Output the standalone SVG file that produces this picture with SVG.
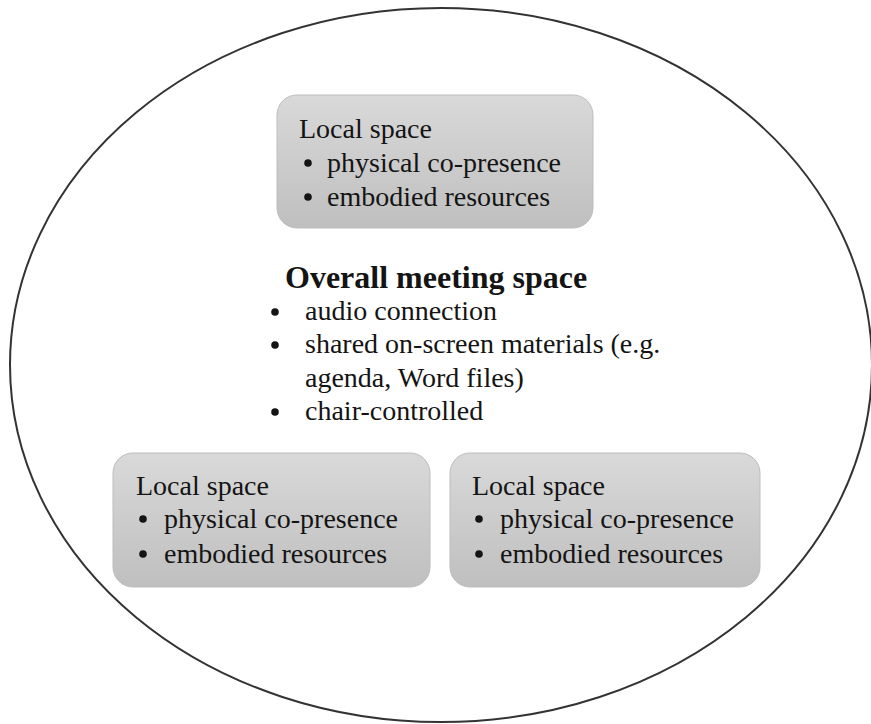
<svg xmlns="http://www.w3.org/2000/svg" width="871" height="724" viewBox="0 0 871 724">
<style>
text{font-family:"Liberation Serif","Times New Roman",serif;fill:#141414;font-size:28px}
.title{font-weight:bold;font-size:32px}
.box{fill:url(#g);stroke:#bdbdbd;stroke-width:1}
.dot{fill:#141414}
</style>
<defs>
<linearGradient id="g" x1="0" y1="0" x2="0" y2="1">
<stop offset="0" stop-color="#d9d9d9"/>
<stop offset="1" stop-color="#bfbfbf"/>
</linearGradient>
</defs>
<rect width="871" height="724" fill="#fff"/>
<g id="overall">
<ellipse cx="441" cy="365" rx="431" ry="357" fill="none" stroke="#333" stroke-width="2"/>
<text class="title" x="285" y="288">Overall meeting space</text>
<circle class="dot" cx="275" cy="312" r="3.8"/>
<text x="305" y="320">audio connection</text>
<circle class="dot" cx="275" cy="345" r="3.8"/>
<text x="305" y="353">shared on-screen materials (e.g.</text>
<text x="305" y="387">agenda, Word files)</text>
<circle class="dot" cx="275" cy="412" r="3.8"/>
<text x="305" y="420">chair-controlled</text>
</g>
<g id="local-top">
<rect class="box" x="277" y="95" width="316" height="133" rx="20"/>
<text x="299" y="138">Local space</text>
<circle class="dot" cx="308" cy="163" r="3.8"/>
<text x="327" y="172">physical co-presence</text>
<circle class="dot" cx="308" cy="197" r="3.8"/>
<text x="327" y="206">embodied resources</text>
</g>
<g id="local-left">
<rect class="box" x="113" y="453" width="317" height="134" rx="20"/>
<text x="136" y="495">Local space</text>
<circle class="dot" cx="143" cy="519" r="3.8"/>
<text x="164" y="528">physical co-presence</text>
<circle class="dot" cx="143" cy="554" r="3.8"/>
<text x="164" y="563">embodied resources</text>
</g>
<g id="local-right">
<rect class="box" x="450" y="453" width="310" height="134" rx="20"/>
<text x="472" y="495">Local space</text>
<circle class="dot" cx="479" cy="519" r="3.8"/>
<text x="500" y="528">physical co-presence</text>
<circle class="dot" cx="479" cy="554" r="3.8"/>
<text x="500" y="563">embodied resources</text>
</g>
</svg>
